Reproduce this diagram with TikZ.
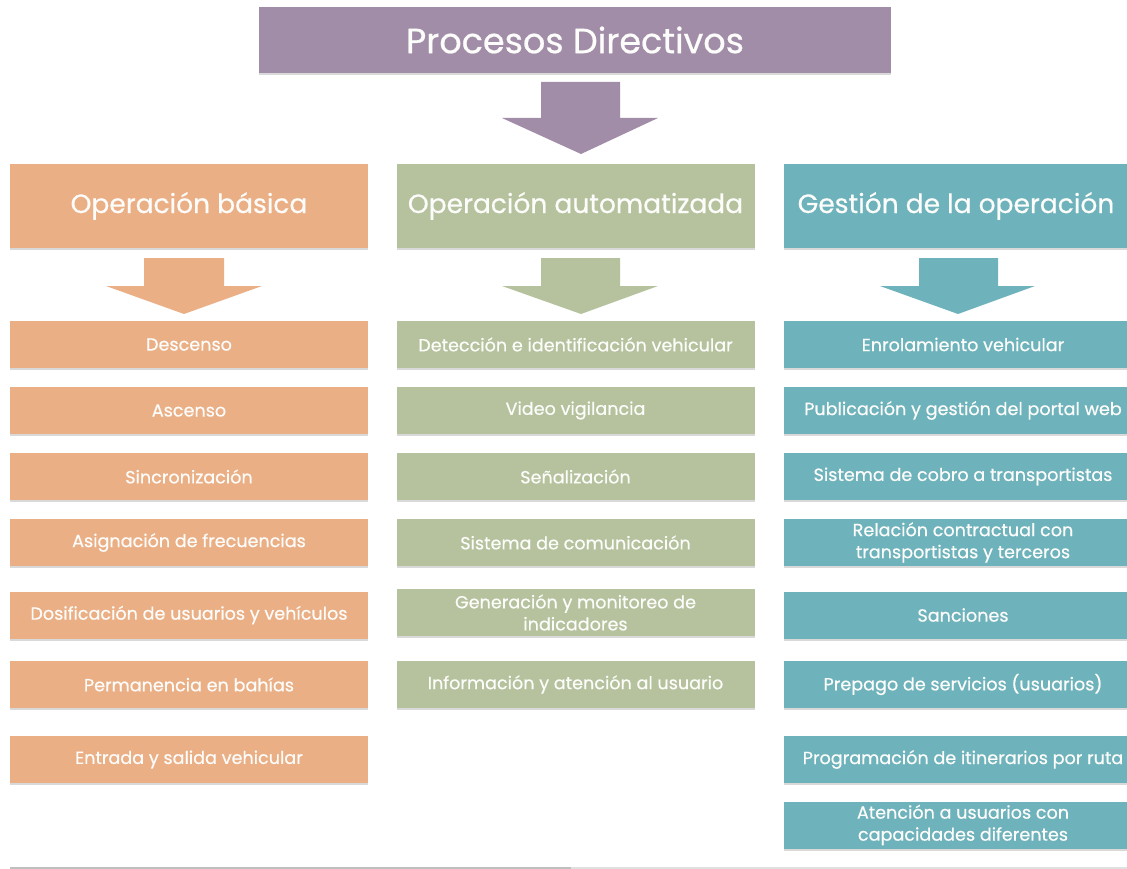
\documentclass[tikz,border=0pt]{standalone}
\usepackage{fontspec}
\setmainfont{Poppins}[FakeBold=0.6]
\usetikzlibrary{shadows}
\definecolor{cPur}{RGB}{162,141,168}
\definecolor{cOra}{RGB}{235,175,134}
\definecolor{cGre}{RGB}{181,194,157}
\definecolor{cTea}{RGB}{110,178,188}
\definecolor{cTxt}{RGB}{252,252,250}
\tikzset{
  base/.style={rectangle, inner sep=0pt, text=cTxt, align=center,
    drop shadow={shadow xshift=0pt, shadow yshift=-2pt, opacity=0.25, fill=black!60}},
  topbox/.style={base, fill=cPur, minimum width=632pt, minimum height=66pt, font=\fontsize{35}{40}\selectfont},
  head/.style={base, minimum width=358pt, minimum height=84pt, font=\fontsize{26.5}{30}\selectfont},
  item/.style={base, minimum width=358pt, minimum height=47pt, font=\fontsize{17.6}{22}\selectfont},
  ora/.style={fill=cOra}, gre/.style={fill=cGre}, tea/.style={fill=cTea},
}
\begin{document}
\begin{tikzpicture}[x=1pt,y=-1pt]
\useasboundingbox (0,0) rectangle (1127,869);
\begin{scope}
\clip (0,0) rectangle (1127,869);
% top
\node[topbox] (top) at (575,40) {\raisebox{-3pt}{Procesos Directivos}};
\fill[cPur] (541,82) -- (620,82) -- (620,118) -- (658,118) -- (581,154) -- (502,118) -- (541,118) -- cycle;
% headers
\node[head,ora] (h1) at (189,206) {\raisebox{-3pt}{Operación básica}};
\node[head,gre] (h2) at (575.5,206) {\raisebox{-3pt}{Operación automatizada}};
\node[head,tea] (h3) at (963,206) {\raisebox{-3pt}{\hspace*{-14pt}Gestión de la operación}};
% small arrows
\fill[cOra] (144,258) -- (224,258) -- (224,286) -- (262,286) -- (184,314) -- (106,286) -- (144,286) -- cycle;
\fill[cGre] (541,258) -- (620,258) -- (620,286) -- (658,286) -- (581,314) -- (502,286) -- (541,286) -- cycle;
\fill[cTea] (919,258) -- (998,258) -- (998,286) -- (1035,286) -- (958,314) -- (880,286) -- (919,286) -- cycle;
% left column
\node[item,ora] (a1) at (189,344.5) {Descenso};
\node[item,ora] (a2) at (189,410.5) {Ascenso};
\node[item,ora] (a3) at (189,476.5) {Sincronización};
\node[item,ora] (a4) at (189,542.5) {Asignación de frecuencias};
\node[item,ora] (a5) at (189,615) {Dosificación de usuarios y vehículos};
\node[item,ora] (a6) at (189,684.5) {Permanencia en bahías};
\node[item,ora] (a7) at (189,759.5) {Entrada y salida vehicular};
% middle column
\node[item,gre] (b1) at (575.5,344.5) {Detección e identificación vehicular};
\node[item,gre] (b2) at (575.5,410.5) {Video vigilancia};
\node[item,gre] (b3) at (575.5,476.5) {Señalización};
\node[item,gre] (b4) at (575.5,542.5) {Sistema de comunicación};
\node[item,gre] (b5) at (575.5,612.5) {Generación y monitoreo de\\indicadores};
\node[item,gre] (b6) at (575.5,684.5) {Información y atención al usuario};
% right column
\node[item,tea] (c1) at (963,344.5) {Enrolamiento vehicular};
\node[item,tea] (c2) at (963,410.5) {Publicación y gestión del portal web};
\node[item,tea] (c3) at (963,476.5) {Sistema de cobro a transportistas};
\node[item,tea] (c4) at (963,542.5) {Relación contractual con\\transportistas y terceros};
\node[item,tea] (c5) at (963,615) {Sanciones};
\node[item,tea] (c6) at (963,684.5) {Prepago de servicios (usuarios)};
\node[item,tea] (c7) at (963,759.5) {Programación de itinerarios por ruta};
\node[item,tea] (c8) at (963,825) {Atención a usuarios con\\capacidades diferentes};
% bottom rule
\draw[line width=2pt, black!25] (10,867.5) -- (571,867.5);
\draw[line width=2pt, black!12] (571,867.5) -- (1127,867.5);
\end{scope}
\end{tikzpicture}
\end{document}
